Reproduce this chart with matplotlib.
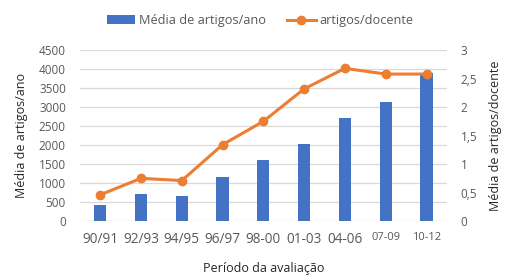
import matplotlib
matplotlib.use("Agg")
import matplotlib.pyplot as plt

periods = ["90/91", "92/93", "94/95", "96/97", "98-00", "01-03", "04-06", "07-09", "10-12"]
media_artigos_ano = [420, 700, 660, 1150, 1610, 2020, 2710, 3140, 3890]
artigos_docente = [0.46, 0.75, 0.71, 1.34, 1.75, 2.32, 2.68, 2.58, 2.58]

left_ticks = [0, 500, 1000, 1500, 2000, 2500, 3000, 3500, 4000, 4500]
right_ticks = [0, 0.5, 1, 1.5, 2, 2.5, 3]
right_labels = ["0", "0,5", "1", "1,5", "2", "2,5", "3"]

BLUE = "#4472C4"
ORANGE = "#ED7D31"
GREY = "#595959"

plt.rcParams["font.family"] = ["Open Sans", "DejaVu Sans"]

fig = plt.figure(figsize=(5.05, 2.77), dpi=100)
ax = fig.add_axes([0.158, 0.202, 0.727, 0.617])
ax2 = ax.twinx()

x = list(range(len(periods)))
bars = ax.bar(x, media_artigos_ano, width=0.3, color=BLUE, zorder=3,
              label="Média de artigos/ano")
line, = ax2.plot(x, artigos_docente, color=ORANGE, lw=2.2, marker="o",
                 markersize=6, label="artigos/docente", zorder=4)

ax.set_xlim(-0.5, len(periods) - 0.5)
ax.set_ylim(0, 4500)
ax2.set_ylim(0, 3)
ax.set_yticks(left_ticks)
ax2.set_yticks(right_ticks)
ax2.set_yticklabels(right_labels)
ax.set_xticks(x)
ax.set_xticklabels(periods)

ax.grid(axis="y", color="#d9d9d9", lw=0.9, zorder=0)
for a in (ax, ax2):
    for s in a.spines.values():
        s.set_visible(False)
    a.tick_params(length=0, colors=GREY, labelsize=8.5)
ax.tick_params(axis="y", pad=10)
ax.tick_params(axis="x", pad=8, labelsize=9.8)
ax2.tick_params(axis="y", pad=10)
# the last two period labels are drawn smaller in the original
for lbl in ax.get_xticklabels()[-2:]:
    lbl.set_fontsize(8)

ax.set_ylabel("Média de artigos/ano", fontsize=9, color="#262626", labelpad=8)
ax2.set_ylabel("Média de artigos/docente", fontsize=9, color="#262626", labelpad=8)
ax.set_xlabel("Período da avaliação", fontsize=9, color="#262626", labelpad=11)

fig.legend(handles=[bars, line], loc="center", bbox_to_anchor=(0.515, 0.925),
           ncol=2, frameon=False, fontsize=9.2, handlelength=2.2,
           columnspacing=1.7, labelcolor=GREY, handletextpad=0.3)

fig.savefig("out.png", dpi=100)
